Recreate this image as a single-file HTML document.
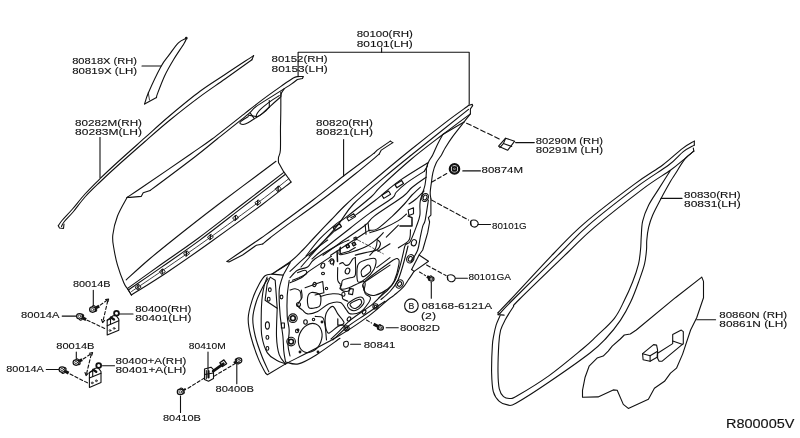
<!DOCTYPE html>
<html><head><meta charset="utf-8"><title>Door diagram</title>
<style>
html,body{margin:0;padding:0;background:#fff;}
body{width:800px;height:438px;overflow:hidden;}
svg{display:block;filter:grayscale(1);}
svg text{font-family:"Liberation Sans",sans-serif;fill:#111;stroke:#111;stroke-width:0.12px;}
</style></head><body>
<svg width="800" height="438" viewBox="0 0 800 438">
<g fill="none" stroke="#111" stroke-width="1.1" stroke-linecap="round" stroke-linejoin="round">
<path d="M142.0,66.0 L161.0,66.0"/>
<path d="M100.0,137.5 L100.0,177.5"/>
<path d="M298.1,76.7 L298.1,52.3 L469.2,52.3 L469.2,104.3"/>
<path d="M381.6,47.8 L381.6,52.3"/>
<path d="M343.6,139.5 L343.6,176.0"/>
<path d="M515.6,142.6 L534.3,142.6"/>
<path d="M462.8,170.9 L480.4,170.9"/>
<path d="M477.9,224.5 L490.5,224.5"/>
<path d="M455.4,278.2 L467.4,278.2"/>
<path d="M661.0,198.4 L682.0,198.4"/>
<path d="M696.7,319.8 L715.6,319.8"/>
<path d="M431.3,282.3 L431.3,298.3"/>
<path d="M386.2,327.8 L398.3,327.8"/>
<path d="M350.6,344.3 L360.6,344.3"/>
<path d="M93.3,290.4 L93.3,306.5"/>
<path d="M62.2,316.1 L77.2,316.1"/>
<path d="M119.0,314.0 L133.0,314.0"/>
<path d="M76.3,352.0 L76.3,358.8"/>
<path d="M46.3,369.5 L58.8,369.5"/>
<path d="M102.5,365.8 L114.5,365.8"/>
<path d="M208.0,352.0 L208.0,370.0"/>
<path d="M236.8,363.8 L236.8,383.8"/>
<path d="M180.5,396.0 L180.5,412.5"/>
<circle cx="411.4" cy="305.7" r="6.8"/>
<path d="M186.3,38.2 C185.0,39.0 181.2,40.0 178.4,42.8 C175.6,45.5 172.2,50.8 169.3,54.7 C166.4,58.7 164.5,60.1 161.0,66.5 C157.5,72.9 151.0,86.8 148.3,93.0 C145.6,99.2 145.2,102.2 144.6,104.0"/>
<path d="M186.3,38.8 C185.9,39.6 186.0,40.3 183.9,43.7 C181.8,47.1 177.0,53.9 173.8,59.2 C170.6,64.5 167.4,69.9 164.7,75.7 C162.0,81.5 158.8,90.2 157.4,93.9 C156.0,97.6 156.7,97.0 156.5,97.6"/>
<path d="M144.6,104.0 L156.5,97.6"/>
<circle cx="186.3" cy="38.2" r="0.8" fill="#111"/>
<path d="M148.3,93.0 L149.5,100.0" stroke-width="0.8"/>
<path d="M253.6,55.6 C248.8,58.8 233.9,68.5 225.0,74.5 C216.1,80.5 209.2,84.5 200.0,91.3 C190.8,98.1 179.2,107.8 170.0,115.5 C160.8,123.2 153.3,130.3 145.0,137.7 C136.7,145.1 127.5,153.2 120.0,160.0 C112.5,166.8 105.8,173.0 100.0,178.7 C94.2,184.4 89.6,188.9 85.0,194.0 C80.4,199.1 76.3,204.6 72.5,209.0 C68.7,213.4 64.4,217.7 62.0,220.5 C59.6,223.3 58.9,224.9 58.3,225.8"/>
<path d="M251.9,59.7 C247.4,62.9 233.7,72.8 225.0,79.0 C216.3,85.2 209.2,89.8 200.0,96.6 C190.8,103.4 179.2,112.5 170.0,120.0 C160.8,127.5 153.3,134.2 145.0,141.5 C136.7,148.8 127.5,156.8 120.0,163.5 C112.5,170.2 105.8,176.4 100.0,182.0 C94.2,187.6 89.4,192.1 85.0,197.0 C80.6,201.9 77.0,207.3 73.5,211.5 C70.0,215.7 66.0,219.5 64.0,222.0 C62.0,224.5 61.9,225.8 61.5,226.5"/>
<path d="M253.6,55.6 L251.9,59.7"/>
<path d="M58.3,225.8 L59.5,228.0 L63.5,228.5 L64.0,224.0"/>
<path d="M297.9,76.5 L303.4,76.5 L302.4,78.5 L297.4,79.5"/>
<path d="M297.9,76.5 C297.1,76.8 296.1,76.4 293.3,78.0 C290.5,79.6 286.3,82.6 281.3,86.1 C276.3,89.6 269.2,94.6 263.2,99.1 C257.2,103.6 253.7,106.4 245.2,113.1 C236.7,119.8 221.2,132.2 212.1,139.0 C203.0,145.8 202.1,146.1 190.4,154.2 C178.8,162.2 152.8,180.1 142.2,187.3 C131.6,194.5 129.6,195.7 127.1,197.4"/>
<path d="M297.4,79.5 C296.4,80.3 293.5,82.6 291.3,84.1 C289.1,85.6 287.3,86.7 284.3,88.6 C281.3,90.5 278.1,92.5 273.2,95.6 C268.3,98.7 259.4,104.1 255.2,107.2 C251.0,110.3 254.5,108.8 248.2,114.1 C241.8,119.4 226.1,131.8 217.1,139.0 C208.1,146.2 205.6,148.6 194.4,157.2 C183.2,165.8 157.6,184.9 150.2,190.4"/>
<path d="M150.2,190.4 L143.2,192.8 L141.2,196.4 L130.1,197.4 L127.1,197.4"/>
<path d="M284.3,88.6 C283.8,89.3 282.1,91.6 281.5,93.0 C280.9,94.4 280.9,96.3 280.8,97.0"/>
<path d="M280.0,97.5 C278.4,98.9 273.0,103.7 270.4,106.1 C267.8,108.5 266.8,110.1 264.3,112.1 C261.8,114.1 258.5,116.1 255.3,118.1 C252.1,120.1 247.7,123.2 245.2,124.1 C242.7,125.0 240.9,124.1 240.2,123.6 C239.5,123.1 239.9,122.3 241.2,121.1 C242.5,119.9 247.0,117.3 248.2,116.6"/>
<path d="M279.3,95.6 C277.9,96.5 273.9,98.8 270.7,101.1 C267.5,103.4 262.6,107.2 260.2,109.7 C257.8,112.2 256.3,115.2 256.3,116.1 C256.3,117.0 258.1,116.6 260.3,115.1 C262.5,113.6 267.8,108.3 269.3,107.0"/>
<path d="M269.3,100.5 L269.3,107.0"/>
<path d="M248.2,115.1 L256.3,116.6"/>
<path d="M250.3,113.1 L254.3,118.6"/>
<path d="M127.1,197.4 C125.5,200.5 119.9,209.7 117.5,216.0 C115.1,222.3 113.4,229.7 112.8,235.0 C112.2,240.3 113.0,243.0 113.8,248.0 C114.6,253.0 115.8,259.3 117.5,265.1 C119.2,270.9 122.1,278.7 123.8,282.7 C125.5,286.7 126.3,286.9 127.6,289.0 C128.9,291.1 130.8,294.0 131.4,295.0"/>
<path d="M280.8,92.1 C280.8,95.1 280.9,104.2 280.8,110.0 C280.8,115.8 280.6,120.3 280.5,127.0 C280.4,133.7 280.7,144.9 280.4,150.0 C280.1,155.1 278.8,155.4 278.5,157.5 C278.2,159.6 278.5,161.8 278.5,162.6"/>
<path d="M278.5,162.6 L283.5,171.4 L291.1,182.0"/>
<path d="M276.0,161.3 C266.3,168.6 234.8,191.9 217.6,205.0 C200.4,218.1 184.2,230.9 172.8,240.0 C161.4,249.1 156.7,252.9 148.9,259.5 C141.1,266.1 130.0,276.4 126.2,279.8"/>
<path d="M283.5,172.6 C276.5,178.0 255.8,194.0 241.5,205.0 C227.2,216.0 211.4,228.5 197.9,238.5 C184.4,248.5 172.0,256.7 160.3,265.0 C148.6,273.3 133.1,284.5 127.6,288.4"/>
<path d="M285.1,174.5 C278.1,179.9 257.4,195.9 243.1,206.9 C228.8,217.9 213.0,230.4 199.5,240.4 C186.0,250.4 173.7,258.7 161.9,266.9 C150.2,275.1 134.5,285.7 129.0,289.5"/>
<path d="M291.1,182.0 C286.2,185.8 275.1,194.9 261.6,205.0 C248.1,215.1 225.8,231.2 210.0,242.5 C194.2,253.8 179.6,263.9 166.5,272.7 C153.4,281.4 137.2,291.3 131.4,295.0"/>
<path d="M288.9,178.6 C284.0,182.4 272.9,191.5 259.4,201.6 C245.9,211.7 223.7,227.8 207.8,239.1 C192.0,250.4 177.0,260.6 164.3,269.3 C151.6,278.0 137.0,287.8 131.5,291.5" stroke-width="0.8"/>
<path d="M127.6,288.4 L131.4,295.0"/>
<path d="M275.6,188.4 L279.0,185.9 L281.2,188.8 L277.8,191.3 Z" stroke-width="0.9"/>
<path d="M278.1,186.4 L278.1,190.8" stroke-width="1.3"/>
<path d="M255.2,202.4 L258.6,199.9 L260.8,202.8 L257.4,205.3 Z" stroke-width="0.9"/>
<path d="M257.7,200.4 L257.7,204.8" stroke-width="1.3"/>
<path d="M232.9,217.6 L236.3,215.1 L238.5,218.0 L235.1,220.5 Z" stroke-width="0.9"/>
<path d="M235.4,215.6 L235.4,220.0" stroke-width="1.3"/>
<path d="M207.8,236.8 L211.2,234.3 L213.4,237.2 L210.0,239.7 Z" stroke-width="0.9"/>
<path d="M210.3,234.8 L210.3,239.2" stroke-width="1.3"/>
<path d="M183.9,253.3 L187.3,250.8 L189.5,253.7 L186.1,256.2 Z" stroke-width="0.9"/>
<path d="M186.4,251.3 L186.4,255.7" stroke-width="1.3"/>
<path d="M159.7,271.3 L163.1,268.8 L165.3,271.7 L161.9,274.2 Z" stroke-width="0.9"/>
<path d="M162.2,269.3 L162.2,273.7" stroke-width="1.3"/>
<path d="M135.5,286.8 L138.9,284.3 L141.1,287.2 L137.7,289.7 Z" stroke-width="0.9"/>
<path d="M138.0,284.8 L138.0,289.2" stroke-width="1.3"/>
<path d="M390.3,141.1 L377.2,150.1 L374.2,153.1"/>
<path d="M374.2,153.1 C369.5,156.6 356.3,166.2 346.1,174.0 C335.9,181.8 324.6,191.2 313.0,200.0 C301.4,208.8 285.1,220.7 276.5,227.0 C267.9,233.3 268.2,233.0 261.5,237.7 C254.8,242.4 242.1,251.1 236.3,255.0 C230.6,258.9 228.6,260.3 227.0,261.4"/>
<path d="M392.8,142.6 L381.3,150.1 L379.2,154.1"/>
<path d="M379.2,154.1 C375.2,157.4 365.0,166.1 355.1,174.0 C345.2,181.9 331.6,192.6 320.0,201.3 C308.4,210.0 293.6,220.3 285.3,226.4 C277.0,232.5 274.1,234.8 270.3,237.7 C266.5,240.6 264.0,242.9 262.7,244.0"/>
<path d="M262.7,244.0 L256.4,245.2 L242.6,255.0 L229.0,262.0 L227.0,261.4"/>
<path d="M390.3,141.1 L392.8,142.6"/>
<path d="M694.3,141.1 C692.3,142.3 687.6,144.6 682.3,148.6 C677.0,152.6 670.7,159.1 662.7,165.0 C654.7,170.9 647.6,174.4 634.5,184.1 C621.4,193.8 597.7,211.8 584.3,223.3 C570.9,234.8 566.5,240.2 554.1,253.0 C541.8,265.8 519.5,290.1 510.2,300.0 C500.9,309.9 500.1,310.4 498.1,312.5"/>
<path d="M694.3,145.1 C692.5,146.2 687.6,148.3 683.3,151.6 C679.0,154.9 676.5,159.1 668.7,165.0 C660.9,170.9 649.9,177.0 636.5,187.1 C623.1,197.2 601.0,214.3 588.3,225.3 C575.6,236.3 572.8,240.6 560.2,253.0 C547.6,265.4 522.7,290.0 512.7,300.0 C502.7,310.0 502.2,310.9 500.1,313.1"/>
<path d="M694.3,141.1 L694.3,145.1"/>
<path d="M498.1,312.5 L498.1,314.6 L504.1,315.1"/>
<path d="M500.1,313.1 L498.1,314.6"/>
<path d="M693.3,148.1 L693.8,151.1"/>
<path d="M693.8,151.1 C692.2,152.4 688.1,155.9 684.3,159.1 C680.4,162.2 677.7,165.0 670.7,170.0 C663.8,175.0 655.3,179.5 642.6,189.1 C629.9,198.7 606.9,216.7 594.3,227.3 C581.7,238.0 579.8,240.9 567.2,253.0 C554.6,265.1 527.7,291.0 518.7,300.0 C509.7,309.0 515.5,303.6 513.2,307.0 C510.9,310.4 507.2,316.2 505.1,320.1 C503.0,324.0 501.7,326.2 500.6,330.2 C499.6,334.2 499.2,337.0 498.8,344.0 C498.4,351.0 497.9,364.8 498.0,372.3 C498.1,379.8 498.4,384.8 499.3,388.9 C500.2,392.9 501.7,395.0 503.5,396.6 C505.3,398.2 507.6,398.6 509.9,398.5 C512.2,398.4 510.8,399.6 517.3,395.8 C523.8,392.0 538.1,383.5 549.1,375.6 C560.1,367.7 575.1,355.0 583.0,348.5 C590.9,342.0 591.1,341.4 596.3,336.4 C601.5,331.4 609.7,324.3 614.4,318.3 C619.1,312.3 621.4,306.3 624.4,300.3 C627.4,294.3 630.1,288.2 632.5,282.2 C634.9,276.2 637.2,269.5 638.5,264.1 C639.8,258.7 640.0,254.4 640.5,250.0 C641.0,245.6 640.9,242.2 641.2,237.4 C641.6,232.6 641.4,226.7 642.6,221.3 C643.8,215.9 645.9,210.6 648.6,205.2 C651.3,199.8 654.9,195.0 658.6,189.1 C662.3,183.2 668.7,173.2 670.7,170.0"/>
<path d="M693.8,151.1 C692.3,152.4 687.9,155.3 684.8,159.1 C681.7,162.9 677.6,170.3 675.2,174.0 C672.9,177.7 673.1,176.9 670.7,181.1 C668.3,185.3 663.7,193.5 660.7,199.2 C657.7,204.9 654.6,210.6 652.6,215.3 C650.6,220.0 649.6,223.2 648.6,227.3 C647.6,231.4 647.1,236.2 646.8,240.0 C646.4,243.8 646.9,246.0 646.5,250.0 C646.1,254.0 645.8,258.7 644.5,264.1 C643.2,269.5 640.8,275.8 638.5,282.2 C636.2,288.6 633.5,295.9 630.5,302.3 C627.5,308.7 624.4,314.4 620.4,320.4 C616.4,326.3 611.4,332.6 606.3,338.0 C601.2,343.4 599.5,345.7 590.0,353.0 C580.5,360.3 561.5,373.6 549.1,382.0 C536.8,390.4 522.8,399.4 515.9,403.2 C509.0,407.0 510.4,405.2 507.6,404.9 C504.8,404.6 501.7,403.5 499.3,401.3 C496.9,399.1 494.6,396.4 493.3,391.6 C492.0,386.8 491.8,380.1 491.6,372.3 C491.5,364.5 492.0,351.2 492.4,345.0 C492.8,338.8 493.2,338.5 493.8,335.2 C494.4,331.9 495.1,328.4 496.1,325.1 C497.2,321.8 499.4,317.2 500.1,315.6"/>
<path d="M701.8,277.1 L675.4,297.7 L636.3,330.0 L630.3,334.0 L624.3,335.0 L620.3,339.0 L612.2,346.1 L608.2,351.1 L603.2,356.1 L597.1,358.1 L589.1,366.2 L585.1,377.2 L582.5,390.3 L582.5,397.3 L598.1,396.9 L613.2,389.9 L617.2,390.3 L623.3,404.4 L628.3,408.4 L648.4,399.3 L654.4,388.3 L664.5,381.3 L670.5,373.2 L676.5,368.2 L682.6,354.1 L690.6,330.0 L696.7,317.8 L703.5,297.7 L703.5,281.4 L701.8,277.1"/>
<path d="M468.9,105.3 L472.3,104.4 L472.7,105.7 L470.4,108.8 L470.4,113.8 L465.4,120.1 L464.1,122.0"/>
<path d="M468.9,105.3 C465.0,108.2 455.1,115.1 445.3,122.6 C435.6,130.0 423.8,139.2 410.4,150.0 C397.0,160.8 375.9,178.5 365.1,187.7 C354.3,196.9 351.3,199.6 345.6,205.0 C339.9,210.4 336.3,214.5 331.0,220.0 C325.7,225.5 318.6,233.0 313.9,238.0 C309.2,243.0 306.5,246.2 302.8,250.0 C299.1,253.8 296.6,256.7 291.5,260.7 C286.4,264.7 275.2,271.7 272.0,273.9"/>
<path d="M468.5,109.4 C459.0,117.0 425.6,143.6 411.4,155.0 C397.2,166.4 392.8,169.9 383.2,178.1 C373.6,186.3 361.2,196.1 353.5,204.0 C345.8,211.9 344.2,217.3 337.2,225.8 C330.2,234.3 317.4,248.1 311.4,255.0 C305.4,261.9 302.7,265.0 301.0,267.0"/>
<path d="M470.4,113.8 C465.8,117.2 452.8,126.8 442.8,134.5 C432.8,142.2 420.7,151.2 410.3,160.0 C399.9,168.8 386.8,180.9 380.2,187.1 C373.6,193.3 376.8,191.9 371.0,197.0 C365.2,202.1 351.3,213.2 345.6,217.6 C339.9,222.0 340.9,220.1 336.6,223.6 C332.3,227.1 325.1,233.3 320.0,238.7 C314.9,244.1 308.3,253.1 306.0,256.0"/>
<path d="M464.0,122.0 L442.8,134.5"/>
<path d="M427.4,163.0 C422.9,165.8 407.2,175.3 400.3,180.1 C393.4,184.8 390.2,188.1 386.0,191.5 C381.8,194.9 380.0,196.7 375.0,200.5 C370.0,204.3 360.2,211.8 356.2,214.6 C352.2,217.4 351.8,217.1 350.9,217.6"/>
<path d="M334.3,231.2 C331.9,233.5 324.2,240.7 320.0,244.8 C315.8,248.9 310.8,254.1 309.0,256.0"/>
<path d="M427.4,163.0 L427.4,166.0 L424.4,171.1"/>
<path d="M424.4,171.1 C421.4,173.1 411.0,179.5 406.3,183.1 C401.6,186.7 398.3,190.0 396.0,192.5 C393.7,195.0 396.8,194.6 392.4,198.0 C388.0,201.4 376.8,208.1 369.8,213.1 C362.8,218.1 358.2,221.9 350.2,228.2 C342.1,234.5 327.9,245.7 321.5,250.8 C315.1,255.9 313.6,257.6 312.0,259.0"/>
<path d="M426.4,177.1 C424.0,178.8 415.9,184.3 412.0,187.5 C408.1,190.7 409.3,191.7 403.0,196.5 C396.7,201.3 380.6,211.3 374.3,216.1 C368.0,220.9 371.0,220.7 365.2,225.2 C359.4,229.7 346.6,238.2 339.6,243.2 C332.6,248.2 325.8,253.3 323.0,255.3"/>
<path d="M420.4,187.1 C419.0,188.4 414.7,192.2 412.0,195.0 C409.3,197.8 407.7,200.5 404.4,204.0 C401.1,207.5 396.9,211.9 392.4,216.1 C387.9,220.2 381.1,226.5 377.3,228.9 C373.5,231.3 371.8,229.8 369.8,230.4 C367.8,231.0 371.7,228.5 365.2,232.7 C358.7,236.8 336.4,251.5 330.6,255.3"/>
<path d="M406.5,214.0 C405.1,215.1 402.3,218.2 398.4,220.6 C394.5,223.0 388.1,226.2 383.3,228.2 C378.5,230.2 372.1,231.9 369.8,232.7"/>
<path d="M424.0,191.0 C422.7,192.3 418.5,196.8 416.0,199.0 C413.5,201.2 410.2,203.2 409.0,204.0"/>
<path d="M365.2,224.4 L366.0,234.2"/>
<path d="M368.2,223.6 L369.0,231.2"/>
<path d="M340.4,247.0 C340.3,248.3 337.5,253.8 339.6,254.6 C341.7,255.3 348.7,252.9 353.2,251.5 C357.7,250.1 362.7,248.4 366.7,246.3 C370.7,244.2 374.5,241.0 377.3,238.7 C380.1,236.4 382.3,233.7 383.3,232.7"/>
<path d="M346.2,245.7 L348.5,244.6 L349.6,246.9 L347.3,248.0 Z"/>
<path d="M352.2,243.4 L354.5,242.3 L355.6,244.6 L353.3,245.7 Z"/>
<path d="M353.8,238.1 L356.0,237.1 L357.0,239.3 L354.8,240.3 Z"/>
<path d="M355.4,238.7 L369.8,246.3 L383.3,253.8" stroke-width="0.7" stroke-dasharray="6 2 1.5 2"/>
<path d="M377.3,238.7 C377.1,240.2 377.1,245.0 375.8,247.8 C374.6,250.6 370.8,254.1 369.8,255.3"/>
<path d="M386.3,237.2 L398.4,225.2"/>
<path d="M398.4,247.8 C400.1,246.5 406.9,243.2 408.9,240.2 C410.9,237.2 410.2,231.4 410.5,229.7"/>
<path d="M272.2,274.1 C271.0,274.4 267.3,274.0 265.1,275.7 C262.9,277.4 261.3,280.1 259.1,284.2 C256.9,288.3 253.9,294.6 252.1,300.3 C250.3,306.0 248.4,312.2 248.2,318.2 C248.0,324.2 249.2,329.8 250.9,336.5 C252.6,343.2 255.8,352.3 258.2,358.4 C260.6,364.5 264.3,370.6 265.5,373.0"/>
<path d="M265.5,373.0 L267.4,374.8 L285.6,363.9"/>
<path d="M268.0,278.5 C267.1,279.9 264.7,283.2 262.8,287.0 C260.9,290.8 258.2,295.8 256.5,301.0 C254.8,306.2 253.0,312.4 252.8,318.2 C252.6,324.0 253.7,329.6 255.2,336.0 C256.7,342.4 259.7,350.5 262.0,356.5 C264.3,362.5 267.7,369.2 268.8,371.8"/>
<path d="M272.2,274.1 L290.3,262.5 L283.2,275.1 L272.2,274.1"/>
<path d="M267.1,277.1 C266.6,278.6 265.0,282.4 264.1,286.2 C263.2,290.0 262.4,294.7 261.9,300.0 C261.4,305.3 261.2,311.9 261.2,318.0 C261.2,324.1 260.9,330.7 261.9,336.5 C262.9,342.3 265.0,348.9 267.4,352.9 C269.8,356.8 273.5,358.4 276.5,360.2 C279.5,362.0 284.1,363.3 285.6,363.9"/>
<path d="M270.2,277.1 L275.2,280.2 L277.2,308.3 L265.1,300.3 L267.1,284.2 L270.2,277.1"/>
<path d="M277.2,308.3 C277.1,313.0 276.2,328.8 276.5,336.5 C276.8,344.2 277.7,350.1 279.2,354.7 C280.7,359.3 284.5,362.4 285.6,363.9"/>
<path d="M283.2,275.1 C282.5,277.6 279.7,283.6 279.2,290.2 C278.7,296.8 279.5,306.9 280.1,314.6 C280.7,322.3 282.3,330.4 282.9,336.5 C283.5,342.6 283.4,346.9 283.8,351.1 C284.2,355.4 285.3,360.2 285.6,362.0"/>
<path d="M289.2,280.2 C288.9,282.9 287.5,290.2 287.2,296.2 C286.9,302.2 286.9,310.6 287.2,316.3 C287.5,322.0 289.1,325.6 289.2,330.4 C289.3,335.2 287.9,340.7 288.0,345.0 C288.1,349.3 289.7,354.2 290.0,356.0"/>
<path d="M285.6,362.0 C287.7,362.3 293.2,365.1 298.4,363.9 C303.6,362.7 309.7,359.0 316.6,354.7 C323.5,350.4 336.1,341.0 340.0,338.3"/>
<ellipse cx="267.4" cy="325.5" rx="2.0" ry="3.6" transform="rotate(0.0 267.4 325.5)"/>
<path d="M281.4,323.0 L284.4,323.0 L284.4,328.0 L281.4,328.0 Z"/>
<path d="M285.6,363.9 C294.1,359.4 322.7,345.2 336.5,337.2 C350.3,329.2 360.1,322.3 368.6,316.1 C377.1,309.9 383.5,303.5 387.7,300.0 C391.9,296.5 391.5,297.4 394.0,295.3 C396.5,293.2 400.3,290.4 402.8,287.7 C405.3,285.0 407.1,281.6 409.0,278.9 C410.9,276.2 413.2,272.6 414.1,271.4"/>
<path d="M331.0,339.0 C332.1,337.9 334.6,335.8 337.8,332.7 C341.0,329.6 344.5,325.0 350.3,320.2 C356.1,315.4 367.1,308.6 372.9,303.8 C378.7,299.0 383.0,293.4 385.0,291.3"/>
<path d="M464.1,122.0 C462.2,124.4 455.9,132.1 452.8,136.4 C449.7,140.7 447.2,144.6 445.3,147.7 C443.4,150.8 443.0,152.5 441.5,155.0 C440.0,157.5 437.8,159.7 436.4,162.6 C435.0,165.5 433.7,169.2 432.9,172.6 C432.1,175.9 431.8,179.3 431.4,182.7 C430.9,186.0 430.3,190.0 430.2,192.7 C430.1,195.4 430.8,197.8 430.9,198.8"/>
<path d="M430.9,198.8 L430.9,215.1 L428.4,217.6 L429.6,222.0 L427.7,232.7 L422.7,250.0 L419.1,255.0 L428.5,261.3 L414.1,271.4 L411.6,269.5"/>
<path d="M442.8,134.5 C441.9,136.1 439.4,140.6 437.7,144.0 C436.0,147.4 434.2,152.1 432.7,155.0 C431.2,157.9 429.9,159.2 428.9,161.3 C427.9,163.4 427.0,165.8 426.6,167.6 C426.2,169.4 426.4,171.3 426.4,172.0"/>
<path d="M426.4,172.0 C426.2,174.2 426.0,180.1 425.0,185.0 C424.0,189.9 421.1,196.3 420.2,201.3 C419.3,206.3 420.5,210.9 419.9,215.1 C419.3,219.3 418.0,222.0 416.4,226.4 C414.8,230.8 412.0,238.4 410.2,241.5 C408.4,244.6 406.5,242.8 405.3,245.0 C404.1,247.2 403.8,251.2 402.8,255.0 C401.9,258.8 400.9,263.4 399.6,267.6 C398.3,271.8 397.2,276.4 395.2,280.2 C393.2,284.0 390.4,287.3 387.7,290.2 C385.0,293.1 380.4,296.5 378.9,297.8"/>
<path d="M428.4,200.0 C427.9,203.3 426.1,215.7 425.2,220.1 C424.2,224.5 423.5,223.5 422.7,226.4 C421.9,229.3 421.0,233.8 420.2,237.7 C419.4,241.6 419.2,245.9 417.7,250.0 C416.2,254.1 412.1,260.0 411.0,262.0"/>
<path d="M408.0,246.0 C407.6,247.7 406.5,252.2 405.5,256.0 C404.5,259.8 403.3,264.3 402.0,268.5 C400.7,272.7 399.5,277.2 397.5,281.0 C395.5,284.8 392.8,288.4 390.0,291.5 C387.2,294.6 382.5,298.2 381.0,299.5"/>
<path d="M419.1,255.0 L411.6,269.5"/>
<ellipse cx="425.1" cy="197.5" rx="3.2" ry="4.2" transform="rotate(25.0 425.1 197.5)"/>
<ellipse cx="425.1" cy="197.5" rx="1.8" ry="2.6" transform="rotate(25.0 425.1 197.5)"/>
<ellipse cx="410.3" cy="258.8" rx="3.4" ry="4.4" transform="rotate(30.0 410.3 258.8)"/>
<ellipse cx="410.3" cy="258.8" rx="1.8" ry="2.5" transform="rotate(30.0 410.3 258.8)"/>
<ellipse cx="399.6" cy="284.0" rx="3.4" ry="4.4" transform="rotate(35.0 399.6 284.0)"/>
<ellipse cx="399.6" cy="284.0" rx="1.8" ry="2.5" transform="rotate(35.0 399.6 284.0)"/>
<ellipse cx="413.9" cy="242.7" rx="2.5" ry="3.2" transform="rotate(20.0 413.9 242.7)"/>
<path d="M408.2,210.1 L413.5,207.8 L413.5,213.8 L408.9,215.4 Z"/>
<path d="M408.2,216.1 L412.0,217.6 L412.0,225.9 L399.9,225.9" stroke-width="1.5"/>
<path d="M365.1,281.4 C360.5,286.0 363.4,286.9 363.8,289.0 C364.2,291.1 365.7,292.9 367.6,294.0 C369.5,295.1 371.8,296.1 375.1,295.3 C378.5,294.5 384.6,291.3 387.7,289.0 C390.8,286.7 392.1,285.6 394.0,281.4 C395.9,277.2 398.4,267.6 399.0,263.8 C399.6,260.0 398.9,259.2 397.7,258.8 C396.4,258.4 396.9,257.5 391.5,261.3 C386.1,265.1 369.7,276.8 365.1,281.4 Z"/>
<ellipse cx="310.2" cy="338.0" rx="11.3" ry="15.0" transform="rotate(22.0 310.2 338.0)"/>
<circle cx="292.9" cy="318.2" r="4.3"/>
<circle cx="292.9" cy="318.2" r="2.4" stroke-width="1.6"/>
<circle cx="291.1" cy="341.6" r="4.3"/>
<circle cx="291.1" cy="341.6" r="2.4" stroke-width="1.6"/>
<ellipse cx="269.8" cy="289.8" rx="1.4" ry="1.9" transform="rotate(0.0 269.8 289.8)"/>
<ellipse cx="268.7" cy="299.2" rx="1.4" ry="1.9" transform="rotate(0.0 268.7 299.2)"/>
<ellipse cx="281.5" cy="297.0" rx="1.4" ry="1.9" transform="rotate(0.0 281.5 297.0)"/>
<ellipse cx="267.4" cy="337.4" rx="1.4" ry="1.9" transform="rotate(0.0 267.4 337.4)"/>
<ellipse cx="267.4" cy="348.4" rx="1.4" ry="1.9" transform="rotate(0.0 267.4 348.4)"/>
<path d="M346.9,218.0 L353.7,213.7 L355.5,216.6 L348.7,220.9 Z"/>
<path d="M333.2,227.7 L339.5,223.7 L341.4,226.7 L335.1,230.7 Z" stroke-width="1.4"/>
<path d="M394.9,184.7 L401.6,180.5 L403.5,183.5 L396.8,187.7 Z" stroke-width="1.3"/>
<path d="M381.8,195.2 L388.6,191.0 L390.6,194.2 L383.8,198.4 Z"/>
<path d="M290.0,271.4 C292.7,268.9 300.1,261.6 306.3,256.3 C312.6,251.1 324.1,242.7 327.7,240.0"/>
<path d="M290.0,277.7 C291.3,276.4 294.6,271.9 297.5,270.2 C300.5,268.4 304.7,268.9 307.6,267.0 C310.5,265.1 309.7,262.7 315.1,258.8 C320.6,255.0 334.6,246.9 340.3,243.8 C345.9,240.6 347.6,240.6 349.0,240.0"/>
<path d="M297.5,272.7 C298.8,272.2 303.6,269.9 305.1,270.2 C306.5,270.4 307.4,272.7 306.3,273.9 C305.3,275.2 301.1,276.6 298.8,277.7 C296.5,278.7 293.6,279.8 292.5,280.2"/>
<path d="M290.0,282.7 C291.9,281.9 298.2,279.6 301.3,277.7 C304.4,275.8 303.8,275.0 308.8,271.4 C313.9,267.8 327.7,258.8 331.5,256.3"/>
<path d="M337.1,251.3 L337.5,261.4" stroke-width="1.5"/>
<path d="M340.3,247.5 L340.3,253.8 L349.0,251.3 L355.3,247.5"/>
<path d="M345.5,245.5 L348.0,244.0 L349.5,246.5 L347.0,248.0 Z"/>
<path d="M352.0,243.5 L354.5,242.0 L356.0,244.5 L353.5,246.0 Z"/>
<path d="M339.6,263.9 C340.1,263.7 341.8,262.4 342.8,262.6 C343.7,262.8 344.2,264.8 345.3,265.1 C346.3,265.4 347.8,265.5 349.0,264.5 C350.3,263.5 351.8,260.0 352.8,258.8 C353.9,257.7 354.9,257.8 355.3,257.6"/>
<path d="M355.3,257.6 C355.3,260.5 356.2,271.8 355.3,275.2 C354.5,278.5 352.4,276.9 350.3,277.7 C348.2,278.5 344.2,278.9 342.8,280.2 C341.3,281.5 341.9,283.8 341.5,285.2 C341.1,286.7 339.0,288.6 340.3,289.0 C341.5,289.4 345.1,289.0 349.0,287.7 C353.0,286.5 361.6,281.0 364.1,281.5 C366.6,281.9 364.1,288.8 364.1,290.3"/>
<path d="M337.7,267.6 C337.7,269.7 337.3,277.5 337.7,280.2 C338.2,282.9 339.8,283.3 340.3,284.0"/>
<path d="M361.6,270.2 C362.7,268.5 366.4,265.6 367.9,265.1 C369.4,264.6 370.0,266.0 370.4,267.0 C370.8,268.1 371.4,269.8 370.4,271.4 C369.4,273.0 365.6,275.8 364.1,276.4 C362.7,277.1 362.0,276.2 361.6,275.2 C361.2,274.1 360.6,271.8 361.6,270.2 Z"/>
<path d="M357.8,265.1 C359.1,261.6 362.4,261.1 365.4,260.1 C368.3,259.1 374.0,257.4 375.4,258.8 C376.9,260.3 375.8,265.5 374.2,268.9 C372.5,272.2 368.1,276.9 365.4,278.9 C362.7,281.0 359.1,283.8 357.8,281.5 C356.6,279.2 356.6,268.7 357.8,265.1 Z"/>
<path d="M377.9,251.3 L390.0,243.8"/>
<path d="M376.7,267.6 L390.0,257.6"/>
<path d="M365.4,281.5 L390.0,265.1"/>
<path d="M355.3,255.1 C357.0,254.7 361.8,253.4 365.4,252.6 C368.9,251.7 374.2,251.5 376.7,250.1 C379.2,248.6 380.2,245.4 380.5,243.8 C380.7,242.1 378.4,240.6 377.9,240.0"/>
<path d="M305.1,287.7 L322.7,281.5 L323.9,292.8 L315.1,295.0"/>
<ellipse cx="322.8" cy="265.6" rx="1.8" ry="2.6" transform="rotate(20.0 322.8 265.6)"/>
<ellipse cx="332.0" cy="262.0" rx="1.6" ry="2.2" transform="rotate(20.0 332.0 262.0)"/>
<ellipse cx="347.5" cy="271.0" rx="2.2" ry="3.0" transform="rotate(20.0 347.5 271.0)"/>
<ellipse cx="323.0" cy="273.5" rx="1.5" ry="1.2" transform="rotate(0.0 323.0 273.5)"/>
<ellipse cx="314.5" cy="284.5" rx="1.6" ry="2.2" transform="rotate(20.0 314.5 284.5)"/>
<path d="M328.9,261.4 C329.4,260.9 330.6,258.9 331.5,258.8 C332.3,258.7 333.7,259.7 334.0,260.7 C334.3,261.8 333.4,264.4 333.3,265.1"/>
<path d="M307.6,297.6 C308.0,295.1 309.3,293.0 311.4,292.5 C313.5,292.1 318.7,293.0 320.2,295.1 C321.6,297.1 320.8,303.0 320.2,305.1 C319.5,307.2 318.3,307.2 316.4,307.6 C314.5,308.0 310.3,309.3 308.9,307.6 C307.4,305.9 307.2,300.1 307.6,297.6 Z"/>
<path d="M301.3,290.0 C301.4,291.3 302.6,295.1 302.0,297.6 C301.3,300.1 297.5,303.0 297.6,305.1 C297.7,307.2 300.9,308.7 302.6,310.1 C304.3,311.6 305.1,313.7 307.6,313.9 C310.1,314.1 314.1,313.1 317.7,311.4 C321.2,309.7 325.2,305.3 329.0,303.8 C332.7,302.4 337.3,301.5 340.3,302.6 C343.2,303.6 344.9,308.2 346.6,310.1 C348.2,312.0 348.0,313.6 350.3,313.9 C352.6,314.2 357.4,313.7 360.4,312.0 C363.3,310.3 366.2,306.3 367.9,303.8 C369.6,301.4 370.8,299.2 370.4,297.6 C370.0,295.9 366.7,295.9 365.4,293.8 C364.1,291.7 363.3,286.5 362.9,285.0"/>
<path d="M320.2,296.3 C322.3,295.9 329.2,294.0 332.7,293.8 C336.3,293.6 339.9,294.2 341.5,295.1 C343.2,295.9 341.7,297.8 342.8,298.8 C343.8,299.9 347.0,300.9 347.8,301.3"/>
<path d="M347.8,303.8 C349.1,301.9 355.4,298.5 357.9,297.6 C360.4,296.6 361.9,297.1 362.9,298.2 C363.8,299.2 364.6,301.9 363.5,303.8 C362.5,305.8 358.8,309.2 356.6,310.1 C354.4,311.1 351.8,310.5 350.3,309.5 C348.9,308.5 346.6,305.8 347.8,303.8 Z"/>
<path d="M350.3,303.8 C351.4,302.5 356.7,300.1 358.5,299.4 C360.3,298.8 360.5,299.4 361.0,300.1 C361.5,300.8 362.1,302.2 361.3,303.6 C360.4,305.0 357.5,307.6 356.0,308.2 C354.5,308.9 353.2,308.3 352.2,307.6 C351.3,306.9 349.3,305.2 350.3,303.8 Z"/>
<path d="M326.5,312.6 C327.7,309.9 330.9,306.1 332.7,306.4 C334.6,306.6 335.9,311.2 337.8,313.9 C339.6,316.6 344.0,320.6 344.0,322.7 C344.0,324.8 339.9,325.0 337.8,326.5 C335.7,327.9 333.2,330.4 331.5,331.5 C329.8,332.5 328.8,334.2 327.7,332.7 C326.7,331.3 325.4,326.0 325.2,322.7 C325.0,319.3 325.2,315.4 326.5,312.6 Z"/>
<path d="M337.8,318.9 L337.8,325.2 L344.0,325.2" stroke-width="1.2"/>
<path d="M332.7,340.0 C335.3,337.8 342.4,330.7 347.8,326.5 C353.3,322.2 359.2,318.7 365.4,314.5 C371.6,310.3 381.7,303.5 385.0,301.3"/>
<path d="M315.2,316.4 C316.4,316.6 321.0,316.0 322.7,317.7 C324.4,319.3 324.6,322.7 325.2,326.5 C325.8,330.2 326.2,337.8 326.5,340.0"/>
<circle cx="346.6" cy="328.3" r="2.6"/>
<circle cx="346.6" cy="328.3" r="1.2"/>
<circle cx="375.5" cy="306.4" r="2.6"/>
<circle cx="375.5" cy="306.4" r="1.2"/>
<ellipse cx="364.1" cy="312.0" rx="1.6" ry="2.2" transform="rotate(30.0 364.1 312.0)"/>
<ellipse cx="349.0" cy="319.0" rx="1.6" ry="2.2" transform="rotate(30.0 349.0 319.0)"/>
<ellipse cx="343.4" cy="294.2" rx="1.6" ry="2.0" transform="rotate(0.0 343.4 294.2)"/>
<ellipse cx="326.5" cy="288.5" rx="1.2" ry="1.2" transform="rotate(0.0 326.5 288.5)"/>
<ellipse cx="298.5" cy="304.5" rx="2.0" ry="2.0" transform="rotate(0.0 298.5 304.5)"/>
<ellipse cx="305.5" cy="322.0" rx="1.8" ry="2.2" transform="rotate(0.0 305.5 322.0)"/>
<ellipse cx="297.0" cy="331.0" rx="1.5" ry="1.8" transform="rotate(0.0 297.0 331.0)"/>
<ellipse cx="313.5" cy="319.5" rx="1.2" ry="1.2" transform="rotate(0.0 313.5 319.5)"/>
<path d="M349.5,288.4 L353.4,289.1 L352.5,294.6 L348.6,293.9 Z"/>
<path d="M290.0,290.0 C290.9,289.8 293.4,288.6 295.1,288.8 C296.7,289.0 299.0,289.6 300.1,291.3 C301.1,293.0 301.1,297.6 301.3,298.8"/>
<path d="M340.3,285.0 C340.5,285.8 340.3,289.0 341.5,290.0 C342.8,291.1 346.3,291.5 347.8,291.3 C349.3,291.1 349.9,289.2 350.3,288.8"/>
<circle cx="300.0" cy="352.0" r="0.9" fill="#111"/>
<circle cx="322.0" cy="322.0" r="0.9" fill="#111"/>
<circle cx="298.0" cy="330.0" r="0.9" fill="#111"/>
<circle cx="318.0" cy="352.0" r="0.9" fill="#111"/>
<path d="M94.7,308.5 L99.2,306.1" stroke-width="3.0" stroke-linecap="butt"/>
<ellipse cx="94.5" cy="308.6" rx="1.7" ry="3.2" transform="rotate(-27.9 94.5 308.6)" stroke-width="1.0" fill="#fff"/>
<ellipse cx="92.6" cy="309.6" rx="3.0" ry="2.7" transform="rotate(0.0 92.6 309.6)" stroke-width="1.2" fill="#fff"/>
<ellipse cx="92.6" cy="309.6" rx="1.4" ry="1.2" transform="rotate(0.0 92.6 309.6)" stroke-width="0.7"/>
<path d="M100.2,305.1 L108.2,299.5" stroke-dasharray="3.2 2.2"/>
<path d="M105.6,299.6 L108.6,299.0 L107.9,301.6"/>
<path d="M107.7,301.0 L102.7,322.2" stroke-dasharray="3.2 2.2"/>
<path d="M101.5,319.5 L102.6,322.6 L104.6,320.3"/>
<path d="M81.7,317.4 L86.1,319.6" stroke-width="3.0" stroke-linecap="butt"/>
<ellipse cx="81.5" cy="317.3" rx="1.7" ry="3.2" transform="rotate(26.9 81.5 317.3)" stroke-width="1.0" fill="#fff"/>
<ellipse cx="79.6" cy="316.3" rx="3.0" ry="2.7" transform="rotate(0.0 79.6 316.3)" stroke-width="1.2" fill="#fff"/>
<ellipse cx="79.6" cy="316.3" rx="1.4" ry="1.2" transform="rotate(0.0 79.6 316.3)" stroke-width="0.7"/>
<path d="M87.1,320.2 L105.2,328.7" stroke-dasharray="3.2 2.2"/>
<path d="M78.3,361.5 L82.2,359.6" stroke-width="3.0" stroke-linecap="butt"/>
<ellipse cx="78.0" cy="361.7" rx="1.7" ry="3.2" transform="rotate(-26.2 78.0 361.7)" stroke-width="1.0" fill="#fff"/>
<ellipse cx="76.1" cy="362.6" rx="3.0" ry="2.7" transform="rotate(0.0 76.1 362.6)" stroke-width="1.2" fill="#fff"/>
<ellipse cx="76.1" cy="362.6" rx="1.4" ry="1.2" transform="rotate(0.0 76.1 362.6)" stroke-width="0.7"/>
<path d="M83.2,359.0 L92.2,353.0" stroke-dasharray="3.2 2.2"/>
<path d="M89.4,353.2 L92.6,352.6 L91.8,355.3"/>
<path d="M91.2,354.5 L86.2,375.2" stroke-dasharray="3.2 2.2"/>
<path d="M85.0,372.5 L86.1,375.6 L88.1,373.3"/>
<path d="M64.2,370.7 L68.6,373.1" stroke-width="3.0" stroke-linecap="butt"/>
<ellipse cx="63.9" cy="370.6" rx="1.7" ry="3.2" transform="rotate(28.3 63.9 370.6)" stroke-width="1.0" fill="#fff"/>
<ellipse cx="62.1" cy="369.6" rx="3.0" ry="2.7" transform="rotate(0.0 62.1 369.6)" stroke-width="1.2" fill="#fff"/>
<ellipse cx="62.1" cy="369.6" rx="1.4" ry="1.2" transform="rotate(0.0 62.1 369.6)" stroke-width="0.7"/>
<path d="M70.1,374.1 L89.2,383.7" stroke-dasharray="3.2 2.2"/>
<circle cx="116.5" cy="313.2" r="2.4" stroke-width="1.8"/>
<path d="M107.2,320.2 L113.1,315.8 L116.0,315.4 L118.8,319.1 L118.8,330.2 L107.2,335.0 L107.2,320.2"/>
<path d="M107.2,325.7 L118.8,320.8"/>
<path d="M107.2,320.2 L110.5,318.7 L110.5,324.0"/>
<path d="M111.0,317.4 L114.0,319.4" stroke-width="2.4"/>
<circle cx="110.0" cy="330.5" r="0.9" stroke-width="0.8"/>
<circle cx="114.1" cy="328.4" r="0.9" stroke-width="0.8"/>
<circle cx="98.7" cy="365.6" r="2.4" stroke-width="1.8"/>
<path d="M89.4,372.6 L95.3,368.2 L98.2,367.8 L101.0,371.5 L101.0,382.6 L89.4,387.4 L89.4,372.6"/>
<path d="M89.4,378.1 L101.0,373.2"/>
<path d="M89.4,372.6 L92.7,371.1 L92.7,376.4"/>
<path d="M93.2,369.8 L96.2,371.8" stroke-width="2.4"/>
<circle cx="92.2" cy="382.9" r="0.9" stroke-width="0.8"/>
<circle cx="96.3" cy="380.8" r="0.9" stroke-width="0.8"/>
<path d="M182.4,390.7 L185.8,388.8" stroke-width="2.0" stroke-linecap="butt"/>
<ellipse cx="182.1" cy="390.9" rx="1.7" ry="3.2" transform="rotate(-29.4 182.1 390.9)" stroke-width="1.0" fill="#fff"/>
<ellipse cx="180.3" cy="391.9" rx="3.0" ry="2.7" transform="rotate(0.0 180.3 391.9)" stroke-width="1.2" fill="#fff"/>
<ellipse cx="180.3" cy="391.9" rx="1.4" ry="1.2" transform="rotate(0.0 180.3 391.9)" stroke-width="0.7"/>
<path d="M188.1,388.2 L204.2,378.1" stroke-dasharray="3.2 2.2"/>
<path d="M204.5,369.0 L211.0,367.2 L213.5,369.6 L213.5,378.5 L208.5,381.3 L204.5,379.5 Z"/>
<path d="M206.3,370.6 L206.3,378.8"/>
<path d="M204.5,374.5 L213.5,373.0"/>
<path d="M208.5,371.0 L208.5,377.5" stroke-width="2.2"/>
<path d="M213.2,371.1 L223.3,363.8" stroke-width="2.8"/>
<path d="M219.8,362.7 L223.9,359.9 L226.6,363.7 L222.5,366.5 Z" stroke-width="1.3"/>
<path d="M214.2,376.1 L234.3,364.1" stroke-dasharray="3.2 2.2"/>
<path d="M237.1,361.5 L234.0,363.3" stroke-width="3.0" stroke-linecap="butt"/>
<ellipse cx="237.3" cy="361.4" rx="1.5" ry="2.9" transform="rotate(149.9 237.3 361.4)" stroke-width="1.0" fill="#fff"/>
<ellipse cx="239.0" cy="360.4" rx="2.8" ry="2.5" transform="rotate(0.0 239.0 360.4)" stroke-width="1.2" fill="#fff"/>
<ellipse cx="239.0" cy="360.4" rx="1.3" ry="1.1" transform="rotate(0.0 239.0 360.4)" stroke-width="0.7"/>
<path d="M378.9,326.9 L373.6,324.2" stroke-width="3.0" stroke-linecap="butt"/>
<ellipse cx="379.2" cy="327.0" rx="1.4" ry="2.7" transform="rotate(-153.4 379.2 327.0)" stroke-width="1.0" fill="#fff"/>
<ellipse cx="380.8" cy="327.8" rx="2.6" ry="2.3" transform="rotate(0.0 380.8 327.8)" stroke-width="1.2" fill="#fff"/>
<ellipse cx="380.8" cy="327.8" rx="1.2" ry="1.0" transform="rotate(0.0 380.8 327.8)" stroke-width="0.7"/>
<path d="M366.5,320.0 L371.5,323.0" stroke-dasharray="3.2 2.2"/>
<path d="M344.2,342.0 C344.9,341.6 346.9,341.2 347.6,341.6 C348.3,342.0 348.5,343.3 348.4,344.2 C348.3,345.1 347.7,346.4 347.0,346.8 C346.3,347.2 345.0,347.0 344.4,346.6 C343.8,346.2 343.6,345.0 343.6,344.2 C343.6,343.4 343.5,342.4 344.2,342.0 Z"/>
<path d="M429.9,278.1 L427.0,276.5" stroke-width="3.0" stroke-linecap="butt"/>
<ellipse cx="430.1" cy="278.2" rx="1.3" ry="2.5" transform="rotate(-151.5 430.1 278.2)" stroke-width="1.0" fill="#fff"/>
<ellipse cx="431.6" cy="279.0" rx="2.4" ry="2.2" transform="rotate(0.0 431.6 279.0)" stroke-width="1.2" fill="#fff"/>
<ellipse cx="431.6" cy="279.0" rx="1.1" ry="1.0" transform="rotate(0.0 431.6 279.0)" stroke-width="0.7"/>
<path d="M419.5,272.0 L425.5,275.6" stroke-dasharray="3.2 2.2"/>
<path d="M447.5,276.0 C447.9,275.2 449.4,274.8 450.5,274.8 C451.6,274.8 453.2,275.4 454.0,276.0 C454.8,276.6 455.3,277.7 455.2,278.6 C455.1,279.5 454.4,280.7 453.5,281.2 C452.6,281.7 450.9,281.7 450.0,281.4 C449.1,281.1 448.2,280.5 447.8,279.6 C447.4,278.7 447.1,276.8 447.5,276.0 Z"/>
<path d="M447.5,276.0 L447.8,279.6"/>
<path d="M426.6,265.1 L446.0,275.6" stroke-dasharray="4 2.5"/>
<path d="M470.8,221.2 C471.3,220.4 472.7,220.0 473.8,220.0 C474.9,220.0 476.5,220.6 477.2,221.3 C477.9,222.0 478.3,223.1 478.2,224.0 C478.1,224.9 477.3,226.1 476.4,226.6 C475.5,227.1 473.9,227.1 473.0,226.8 C472.1,226.5 471.4,225.9 471.0,225.0 C470.6,224.1 470.3,222.0 470.8,221.2 Z"/>
<path d="M470.8,221.2 L471.0,225.0"/>
<path d="M431.5,200.0 L468.5,220.0" stroke-dasharray="4.5 2.5"/>
<circle cx="454.5" cy="168.9" r="4.7" stroke-width="2.2"/>
<circle cx="454.5" cy="168.9" r="2.0" stroke-width="1.6"/>
<path d="M451.5,165.5 L457.5,172.0" stroke-width="0.8"/>
<path d="M457.5,165.8 L451.6,172.0" stroke-width="0.8"/>
<path d="M432.0,182.0 L448.4,172.6" stroke-dasharray="4 2.5"/>
<path d="M466.6,123.2 L501.5,140.0" stroke-dasharray="5 2.8"/>
<path d="M498.6,146.2 L505.6,138.2 L514.7,141.2 L507.6,150.3 Z"/>
<path d="M505.6,138.2 L503.4,143.6 L511.8,146.4"/>
<path d="M503.4,143.6 L499.8,147.6"/>
<path d="M642.6,353.7 L653.6,344.6 L656.6,345.1 L657.6,350.2 L657.1,357.2 L650.1,361.2 L643.1,359.7 Z"/>
<path d="M642.6,353.7 L650.1,355.7 L657.6,351.2"/>
<path d="M650.1,355.7 L650.1,361.2"/>
<path d="M672.7,334.6 L681.3,330.1 L683.3,331.6 L683.3,343.6 L662.2,361.2 L659.1,361.2 L657.6,358.2 L657.6,353.2 L672.7,343.6 Z"/>
<path d="M672.7,341.1 L682.8,344.6"/>
</g>
<g>
<text x="72.2" y="64.1" font-size="9.5" textLength="64.9" lengthAdjust="spacingAndGlyphs">80818X (RH)</text>
<text x="72.2" y="73.9" font-size="9.5" textLength="64.9" lengthAdjust="spacingAndGlyphs">80819X (LH)</text>
<text x="75.1" y="126.2" font-size="9.5" textLength="66.9" lengthAdjust="spacingAndGlyphs">80282M(RH)</text>
<text x="75.1" y="135.2" font-size="9.5" textLength="66.9" lengthAdjust="spacingAndGlyphs">80283M(LH)</text>
<text x="271.6" y="62.2" font-size="9.5" textLength="56.1" lengthAdjust="spacingAndGlyphs">80152(RH)</text>
<text x="271.6" y="71.8" font-size="9.5" textLength="56.1" lengthAdjust="spacingAndGlyphs">80153(LH)</text>
<text x="356.7" y="36.8" font-size="9.5" textLength="56.1" lengthAdjust="spacingAndGlyphs">80100(RH)</text>
<text x="356.7" y="46.8" font-size="9.5" textLength="56.1" lengthAdjust="spacingAndGlyphs">80101(LH)</text>
<text x="316.0" y="126.4" font-size="9.5" textLength="56.9" lengthAdjust="spacingAndGlyphs">80820(RH)</text>
<text x="316.0" y="135.3" font-size="9.5" textLength="56.9" lengthAdjust="spacingAndGlyphs">80821(LH)</text>
<text x="535.8" y="143.5" font-size="9.5" textLength="67.2" lengthAdjust="spacingAndGlyphs">80290M (RH)</text>
<text x="535.8" y="152.6" font-size="9.5" textLength="67.2" lengthAdjust="spacingAndGlyphs">80291M (LH)</text>
<text x="481.5" y="173.4" font-size="9.5" textLength="41.5" lengthAdjust="spacingAndGlyphs">80874M</text>
<text x="492.0" y="228.5" font-size="9.5" textLength="34.7" lengthAdjust="spacingAndGlyphs">80101G</text>
<text x="468.4" y="280.3" font-size="9.5" textLength="42.6" lengthAdjust="spacingAndGlyphs">80101GA</text>
<text x="684.0" y="197.8" font-size="9.5" textLength="56.7" lengthAdjust="spacingAndGlyphs">80830(RH)</text>
<text x="684.0" y="206.8" font-size="9.5" textLength="56.7" lengthAdjust="spacingAndGlyphs">80831(LH)</text>
<text x="719.3" y="318.3" font-size="9.5" textLength="67.9" lengthAdjust="spacingAndGlyphs">80860N (RH)</text>
<text x="719.3" y="327.4" font-size="9.5" textLength="67.9" lengthAdjust="spacingAndGlyphs">80861N (LH)</text>
<text x="421.4" y="309.1" font-size="9.5" textLength="70.8" lengthAdjust="spacingAndGlyphs">08168-6121A</text>
<text x="421.0" y="318.5" font-size="9.5" textLength="15.0" lengthAdjust="spacingAndGlyphs">(2)</text>
<text x="408.6" y="308.8" font-size="9.5" textLength="5.8" lengthAdjust="spacingAndGlyphs">B</text>
<text x="399.9" y="331.2" font-size="9.5" textLength="40.0" lengthAdjust="spacingAndGlyphs">80082D</text>
<text x="363.7" y="348.3" font-size="9.5" textLength="31.8" lengthAdjust="spacingAndGlyphs">80841</text>
<text x="72.9" y="286.7" font-size="9.5" textLength="37.6" lengthAdjust="spacingAndGlyphs">80014B</text>
<text x="21.0" y="318.3" font-size="9.5" textLength="38.5" lengthAdjust="spacingAndGlyphs">80014A</text>
<text x="135.2" y="311.9" font-size="9.5" textLength="56.2" lengthAdjust="spacingAndGlyphs">80400(RH)</text>
<text x="135.2" y="321.1" font-size="9.5" textLength="56.2" lengthAdjust="spacingAndGlyphs">80401(LH)</text>
<text x="56.3" y="348.8" font-size="9.5" textLength="38.2" lengthAdjust="spacingAndGlyphs">80014B</text>
<text x="6.3" y="372.0" font-size="9.5" textLength="37.5" lengthAdjust="spacingAndGlyphs">80014A</text>
<text x="115.5" y="363.8" font-size="9.5" textLength="70.8" lengthAdjust="spacingAndGlyphs">80400+A(RH)</text>
<text x="115.5" y="373.0" font-size="9.5" textLength="70.8" lengthAdjust="spacingAndGlyphs">80401+A(LH)</text>
<text x="188.8" y="348.8" font-size="9.5" textLength="37.0" lengthAdjust="spacingAndGlyphs">80410M</text>
<text x="215.5" y="392.0" font-size="9.5" textLength="38.3" lengthAdjust="spacingAndGlyphs">80400B</text>
<text x="163.0" y="420.5" font-size="9.5" textLength="37.8" lengthAdjust="spacingAndGlyphs">80410B</text>
<text x="726.0" y="428.0" font-size="12.5" textLength="68.4" lengthAdjust="spacingAndGlyphs">R800005V</text>
</g>
</svg>
</body></html>
